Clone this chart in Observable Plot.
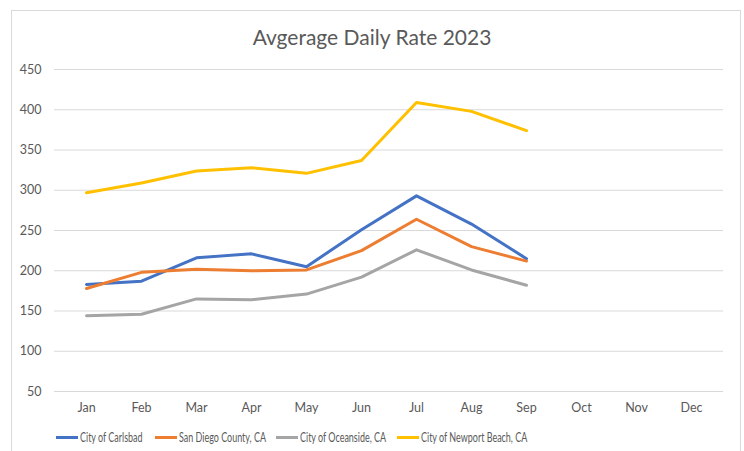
<!DOCTYPE html>
<html>
<head>
<meta charset="utf-8">
<script src="https://cdn.jsdelivr.net/npm/d3@7"></script>
<script src="https://cdn.jsdelivr.net/npm/@observablehq/plot@0.6"></script>
<style>
  html, body { margin: 0; padding: 0; background: #fff; }
  #wrap { position: relative; width: 744px; height: 451px; overflow: hidden; font-family: Lato, "Open Sans", sans-serif; }
  #frame { position: absolute; left: 11px; top: 10px; width: 730px; height: 460px; border: 1px solid #d9d9d9; box-sizing: border-box; }
  #title { position: absolute; left: 0; width: 744px; top: 24px; text-align: center; font-size: 21px; color: #595959; }
  #chart { position: absolute; left: 0; top: 0; }
  .leg { position: absolute; top: 429px; font-size: 13px; color: #595959; white-space: nowrap; display: flex; align-items: center; }
  .leg i { display: inline-block; width: 22px; height: 3px; margin-right: 2px; }
  .leg span { display: inline-block; transform: scaleX(0.69); transform-origin: left center; }
</style>
</head>
<body>
<div id="wrap">
  <div id="frame"></div>
  <div id="chart"></div>
  <div id="title">Avgerage Daily Rate 2023</div>
  <div id="legend"></div>
</div>
<script>
const months = ["Jan","Feb","Mar","Apr","May","Jun","Jul","Aug","Sep","Oct","Nov","Dec"];
const seriesNames = ["City of Carlsbad","San Diego County, CA","City of Oceanside, CA","City of Newport Beach, CA"];
const seriesColors = ["#4472C4","#ED7D31","#A5A5A5","#FFC000"];
const carlsbad  = [183, 187, 216, 221, 205, 251, 293, 258, 215];
const sanDiego  = [178, 198, 202, 200, 201, 225, 264, 230, 212];
const oceanside = [144, 146, 165, 164, 171, 192, 226, 201, 182];
const newport   = [297, 309, 324, 328, 321, 337, 409, 398, 374];
const yTicks = [50,100,150,200,250,300,350,400,450];
const legendX = [56, 155, 276, 397];

const allSeries = [carlsbad, sanDiego, oceanside, newport];
const rows = [];
allSeries.forEach((vals, si) => vals.forEach((v, i) => rows.push({series: seriesNames[si], month: months[i], value: v})));

const chart = Plot.plot({
  width: 744,
  height: 451,
  marginTop: 69,
  marginBottom: 60,
  marginLeft: 54,
  marginRight: 21,
  style: {fontFamily: "Lato, 'Open Sans', sans-serif", fontSize: "12.5px", color: "#595959", background: "transparent"},
  x: {type: "point", domain: months, padding: 0.5, label: null, tickSize: 0, tickPadding: 12},
  y: {domain: [50, 450], ticks: yTicks, label: null, tickSize: 0, tickPadding: 13},
  color: {domain: seriesNames, range: seriesColors},
  marks: [
    Plot.gridY(yTicks, {stroke: "#d9d9d9", strokeOpacity: 1, strokeWidth: 1}),
    Plot.axisY({ticks: yTicks, tickSize: 0, tickPadding: 13, fill: "#595959", label: null}),
    Plot.axisX({tickSize: 0, tickPadding: 12, fill: "#595959", label: null}),
    Plot.line(rows, {x: "month", y: "value", z: "series", stroke: "series", strokeWidth: 3, strokeLinejoin: "round", strokeLinecap: "round"})
  ]
});
document.getElementById("chart").appendChild(chart);

const legend = document.getElementById("legend");
seriesNames.forEach((name, i) => {
  const d = document.createElement("div");
  d.className = "leg";
  d.style.left = legendX[i] + "px";
  d.innerHTML = `<i style="background:${seriesColors[i]}"></i><span>${name}</span>`;
  legend.appendChild(d);
});
</script>
</body>
</html>
